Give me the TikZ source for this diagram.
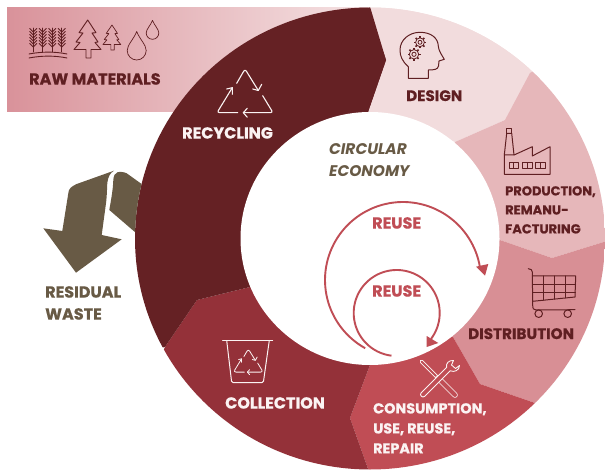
\documentclass[tikz,border=0pt]{standalone}
\usepackage{fontspec}
\setmainfont{Poppins}[BoldFeatures={FakeBold=0.6}]
\usetikzlibrary{calc}
\definecolor{recy}{HTML}{652124}
\definecolor{desi}{HTML}{F2DCDD}
\definecolor{prod}{HTML}{E6B7BA}
\definecolor{dist}{HTML}{D88F95}
\definecolor{cons}{HTML}{C04D55}
\definecolor{coll}{HTML}{943139}
\definecolor{brwn}{HTML}{685A45}
\definecolor{dtxt}{HTML}{5F1F22}
\definecolor{whit}{HTML}{FBF3F3}
\definecolor{rawl}{HTML}{D9929A}
\definecolor{rawr}{HTML}{F5E3E4}
\tikzset{
  lbl/.style={anchor=north west,inner sep=0pt,align=left,font=\fontsize{16}{19}\selectfont\bfseries},
  icon/.style={line width=.9pt,line join=round,line cap=round},
  reusearc/.style={draw=cons,line width=1.9pt},
}
\newcommand\treeshape[1]{\draw[#1] (0,0) -- (-8.7,12.7) -- (-4.7,13) -- (-11.7,22) -- (-7.7,22.5) -- (-13.7,29.5) -- (-1.7,29.5) -- (-1.7,38) -- (3.3,38) -- (3.3,29.5) -- (13.3,29.5) -- (7.3,22.5) -- (10.3,22) -- (4.3,13) -- (8.3,12.7) -- cycle;}
\newcommand\dropshape[1]{\draw[#1] (0,-2) .. controls (-.3,-1.2) and (-1,-.6) .. (-1,0) .. controls (-1,.55) and (-.55,1) .. (0,1) .. controls (.55,1) and (1,.55) .. (1,0) .. controls (1,-.6) and (.3,-1.2) .. (0,-2) -- cycle;}
\newcommand\recyc[1]{%
  \draw[#1,rounded corners=2.5pt] (-1.7,41.7) -- (28,41.7) -- (17.7,24.7);
  \draw[#1,rounded corners=2.5pt] (-7.3,41.7) -- (-28,41.7) -- (-12.7,16.7);
  \draw[#1,rounded corners=2.5pt] (-8.3,12.3) -- (0,-2) -- (13.3,19.5);
  \draw[#1] (2.3,37.3) -- (-1.7,41.7) -- (2.3,46.3);
  \draw[#1] (-18.3,18) -- (-12.7,16.7) -- (-12.7,23.3);
  \draw[#1] (7.7,18) -- (13.3,19.5) -- (16.7,13.3);
}
\newcommand\wheat[1]{%
  \draw[icon,dtxt,line width=.9pt] (#1,28) -- (#1,52);
  \foreach \yy in {31,34,37,40,43,46}{
    \draw[icon,dtxt,line width=.9pt] (#1-3.5,\yy-2.5) -- (#1,\yy+1) -- (#1+3.5,\yy-2.5);
  }
}
\newcommand\gear[3]{% x y r
  \foreach \an in {0,45,...,315}{
    \draw[dtxt,line width=1.5pt] ($(#1,#2)+(\an:#3-1)$) -- ($(#1,#2)+(\an:#3+1.2)$);
  }
  \draw[dtxt,line width=.8pt,fill=desi] (#1,#2) circle[radius=#3-.6];
  \draw[dtxt,line width=.8pt] (#1,#2) circle[radius=#3*.4];
}
\begin{document}
\begin{tikzpicture}[x=1pt,y=-1pt]
\useasboundingbox (0,0) rectangle (605,470);
% raw materials band
\shade[left color=rawl,right color=rawr] (7,8) rectangle (370,112);
% ring segments
\begin{scope}
  \clip (370,238.5) ellipse[x radius=235,y radius=231];
  \fill[desi] (360,0) rectangle (540,120);
  \fill[desi] (368,112) -- (368,0) -- (560,0) -- (530,73) -- (505,120) -- (455,142) -- cycle;
  \fill[prod] (530,73) -- (505,120) -- (455,142) -- (420,200) -- (500,240) -- (552,258) -- (610,240) -- (610,30) -- cycle;
  \fill[dist] (500,240) -- (552,258) -- (610,240) -- (610,360) -- (535,403) -- (480,384) -- (453,337) -- (430,300) -- cycle;
  \fill[cons] (453,337) -- (480,384) -- (535,403) -- (560,480) -- (372,480) -- (350,418) -- (370,365) -- (400,300) -- cycle;
  \fill[coll] (370,365) -- (350,418) -- (372,480) -- (100,480) -- (165,347) -- (197,300) -- (250,287) -- (320,300) -- cycle;
  \fill[recy] (368,0) -- (386,60) -- (368,112) -- (300,200) -- (250,287) -- (197,300) -- (165,347) -- (100,360) -- (100,0) -- cycle;
\end{scope}
\fill[recy] (368,8) -- (386,60) -- (368,112) -- (360,112) -- (360,8) -- cycle;
% waste arrow
\begin{scope}
  \clip (0,120) rectangle (200,290);
  \begin{scope}[even odd rule]
    \clip (0,120) rectangle (200,290) (370,238.5) ellipse[x radius=235,y radius=231];
    \fill[brwn] (117.3,172.3) .. controls (120,171.5) and (124,172) .. (126.7,173.3) -- (150,190) -- (150,245) -- (109.3,210) .. controls (111,200) and (113,190) .. (113.3,180) .. controls (113.5,176) and (115,173) .. (117.3,172.3) -- cycle;
  \end{scope}
\end{scope}
\fill[brwn] (114,170.7) -- (76.7,184) .. controls (71,186.5) and (68.5,189) .. (68.3,193.3) -- (62.3,231) -- (43.3,228.3) -- (76,272.7) -- (121.7,239.3) -- (101.7,235) -- (106,203.3) .. controls (107,195) and (107,188) .. (107.3,183) .. controls (108,177) and (110,173) .. (114,170.7) -- cycle;
% inner disc
\fill[white] (370,238.5) ellipse[x radius=129.5,y radius=126.5];
% reuse arcs
\draw[reusearc] plot[domain=119:351,samples=80,smooth] ({403+78*cos(\x)},{280+78*sin(\x)});
\draw[reusearc] plot[domain=97:397,samples=90,smooth] ({396.7+43*cos(\x)},{313+43*sin(\x)});
\fill[cons] (485,275.7) -- (476,266.7) -- (488.3,264) -- cycle;
\fill[cons] (426.7,347) -- (426.7,336) -- (438.3,343) -- cycle;
% icons: raw materials
\wheat{33.3}\wheat{42.7}\wheat{52.3}\wheat{61.7}
\draw[icon,dtxt] (29,54) .. controls (42,51.5) and (55,51.5) .. (67,54);
\draw[icon,dtxt] (29,58) .. controls (42,55.5) and (55,55.5) .. (67,58);
\begin{scope}[shift={(87.7,20)}]\treeshape{icon,draw=dtxt}\end{scope}
\begin{scope}[shift={(112,25)},scale=.66]\treeshape{icon,draw=dtxt,line width=.7pt}\end{scope}
\begin{scope}[shift={(136.7,50.5)},scale=9.5]\dropshape{icon,draw=dtxt,line width=.7pt}\end{scope}
\begin{scope}[shift={(152.5,33)},scale=6.3]\dropshape{icon,draw=dtxt,line width=.7pt}\end{scope}
% recycling icon
\begin{scope}[shift={(245,71)}]\recyc{icon,draw=whit,line width=1.1pt}\end{scope}
% head icon
\draw[icon,dtxt,line width=1pt] (408.3,78.3) -- (408.3,66.7) .. controls (402,61) and (400,56) .. (400,50) .. controls (400,40) and (409,32.3) .. (420,32.3) .. controls (431,32.3) and (438,38) .. (438.3,46) .. controls (438.5,50) and (441,54) .. (444.3,59.3) -- (439,61) -- (438.5,66) .. controls (438,69.5) and (434,70) .. (428.3,70) -- (428.3,78.3) -- cycle;
\gear{420}{42.3}{5}
\gear{414}{54.3}{5.3}
% factory icon
\draw[icon,dtxt,line width=1pt] (504.3,155) -- (514,155) -- (532.3,146.7) -- (532.3,156) -- (550,146.7) -- (550,174.3) -- (504.3,174.3) -- cycle;
\draw[icon,dtxt,line width=1pt] (504.3,155) -- (506.7,133.3) -- (511.7,133.3) -- (514,155);
\draw[icon,dtxt,line width=1pt] (506.7,133.3) rectangle (511.7,128.3);
\foreach \xa in {509,522.7,535.7}{
  \draw[icon,dtxt,line width=1pt] (\xa,162.7) rectangle (\xa+9.3,168.3);
  \draw[icon,dtxt,line width=1pt] (\xa+4.65,162.7) -- (\xa+4.65,168.3);
}
% cart icon
\draw[icon,dtxt,line width=1pt] (528.3,268.7) .. controls (531,269) and (532.3,270) .. (532.3,272) -- (532.7,305.3) .. controls (532.7,308.5) and (533.5,310) .. (536,310) -- (575,309.7);
\draw[icon,dtxt,line width=1pt] (532.3,276) -- (575.7,276) -- (575,297) -- (532.7,301.3);
\draw[icon,dtxt,line width=1pt] (532.5,284.3) -- (575.5,284.3);
\draw[icon,dtxt,line width=1pt] (532.5,292.7) -- (575.3,292.7);
\draw[icon,dtxt,line width=1pt] (543.3,276) -- (543.3,300.2);
\draw[icon,dtxt,line width=1pt] (554.3,276) -- (554.3,299.1);
\draw[icon,dtxt,line width=1pt] (565,276) -- (565,298);
\draw[icon,dtxt,line width=1pt] (538.7,313.7) circle[radius=3.8];
\draw[icon,dtxt,line width=1pt] (567.7,313.7) circle[radius=3.8];
% tools icon
\draw[whit,double=cons,double distance=2pt,line width=.8pt,line cap=round] (421.5,361.5) -- (437,377);
\draw[whit,double=cons,double distance=4pt,line width=.8pt,line cap=round] (438,378) -- (455,395);
\draw[whit,fill=cons,line width=.9pt,line join=round] (453.5,360.5) .. controls (449,360) and (445.5,363.5) .. (446.7,367.2) -- (421.2,392.7) .. controls (419,395) and (422.5,398.5) .. (424.8,396.3) -- (450.3,370.8) .. controls (454,372.5) and (459.5,370.5) .. (459.5,365.5) -- (455.5,368.5) -- (451.5,365) -- cycle;
% bin icon
\draw[icon,draw=whit,line width=1pt] (222.7,340.3) -- (272.7,340.3);
\draw[icon,draw=whit,line width=1pt,rounded corners=1.5pt] (226.7,340.5) -- (231.7,382.7) -- (263.3,382.7) -- (269.3,340.5);
\begin{scope}[shift={(248.3,350)},scale=.53]\recyc{icon,draw=whit,line width=.8pt}\end{scope}
% labels
\node[lbl,text=dtxt] (raw) at (29,73) {RAW MATERIALS};
\node[lbl,text=whit] (recycling) at (182,127) {RECYCLING};
\node[lbl,text=dtxt,font=\fontsize{15.2}{19}\selectfont\bfseries] (design) at (406,90) {DESIGN};
\node[lbl,text=brwn,font=\fontsize{15.4}{22}\selectfont\bfseries\itshape] (ce) at (329,143) {CIRCULAR\\ECONOMY};
\node[lbl,text=dtxt,font=\fontsize{13}{19}\selectfont\bfseries] (production) at (505,186) {PRODUCTION,\\REMANU-\\FACTURING};
\node[lbl,text=cons] (reuse1) at (372,217) {REUSE};
\node[lbl,text=cons] (reuse2) at (372,285) {REUSE};
\node[lbl,text=dtxt,font=\fontsize{15.2}{19}\selectfont\bfseries] (distribution) at (468,328) {DISTRIBUTION};
\node[lbl,text=whit,font=\fontsize{14.4}{20}\selectfont\bfseries] (consumption) at (373,403) {CONSUMPTION,\\USE, REUSE,\\REPAIR};
\node[lbl,text=whit] (collection) at (225,397) {COLLECTION};
\node[lbl,text=brwn,font=\fontsize{16}{22}\selectfont\bfseries] (residual) at (45,286) {RESIDUAL\\WASTE};
\end{tikzpicture}
\end{document}
